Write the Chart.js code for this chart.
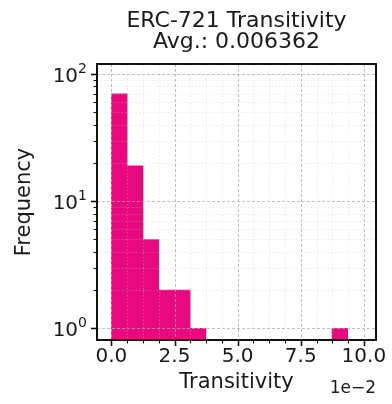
<!DOCTYPE html>
<html><head><meta charset="utf-8">
<script src="https://cdn.jsdelivr.net/npm/chart.js@4/dist/chart.umd.min.js"></script>
<style>html,body{margin:0;padding:0;background:#fff}#wrap{width:392px;height:404px}</style>
</head><body><div id="wrap"><canvas id="c" width="392" height="404"></canvas></div>
<script>
const titleLines = ['ERC-721 Transitivity', 'Avg.: 0.006362'];
const xLabel = 'Transitivity';
const yLabel = 'Frequency';
const offsetText = '1e\u22122';
const binCenters = [0.00312, 0.00936, 0.01560, 0.02184, 0.02808, 0.03432, 0.04056, 0.04680, 0.05304, 0.05928, 0.06552, 0.07176, 0.07800, 0.08424, 0.09048];
const counts = [70, 19, 5, 2, 2, 1, 0, 0, 0, 0, 0, 0, 0, 0, 1];
const xMajorTicks = [0, 0.025, 0.05, 0.075, 0.1];
const xTickLabels = ['0.0', '2.5', '5.0', '7.5', '10.0'];
const xMinorTicks = [0.00625, 0.0125, 0.01875, 0.03125, 0.0375, 0.04375, 0.05625, 0.0625, 0.06875, 0.08125, 0.0875, 0.09375];
const yMajorTicks = [1, 10, 100];
const yTickBase = '10';
const yTickExponents = ['0', '1', '2'];
const yMinorTicks = [2, 3, 4, 5, 6, 7, 8, 9, 20, 30, 40, 50, 60, 70, 80, 90];

const FONT = "'DejaVu Sans', sans-serif";
const TXT = '#1a1a1a';

const framePlugin = {
  id: 'frame',
  afterDatasetsDraw(chart) {
    const {ctx, chartArea: a, scales: {x, y}} = chart;
    ctx.save();
    ctx.beginPath(); ctx.rect(a.left, a.top, a.right - a.left, a.bottom - a.top); ctx.clip();
    const seg = (x1, y1, x2, y2, color, dash, w) => {
      ctx.beginPath(); ctx.setLineDash(dash); ctx.strokeStyle = color; ctx.lineWidth = w;
      ctx.moveTo(x1, y1); ctx.lineTo(x2, y2); ctx.stroke();
    };
    const minorC = 'rgba(200,200,200,0.45)', majorC = 'rgba(170,170,170,0.75)';
    xMinorTicks.forEach(v => { const p = Math.round(x.getPixelForValue(v)) + 0.5; seg(p, a.top, p, a.bottom, minorC, [1.5, 2], 0.8); });
    yMinorTicks.forEach(v => { const p = Math.round(y.getPixelForValue(v)) + 0.5; seg(a.left, p, a.right, p, minorC, [1.5, 2], 0.8); });
    xMajorTicks.forEach(v => { const p = Math.round(x.getPixelForValue(v)) + 0.5; seg(p, a.top, p, a.bottom, majorC, [3, 2], 1); });
    yMajorTicks.forEach(v => { const p = Math.round(y.getPixelForValue(v)) + 0.5; seg(a.left, p, a.right, p, majorC, [3, 2], 1); });
    ctx.restore();
    ctx.save();
    const tk = (x1, y1, x2, y2, w) => { ctx.beginPath(); ctx.strokeStyle = '#111'; ctx.lineWidth = w; ctx.moveTo(x1, y1); ctx.lineTo(x2, y2); ctx.stroke(); };
    xMajorTicks.forEach(v => { const p = Math.round(x.getPixelForValue(v)) + 0.5; tk(p, a.bottom, p, a.bottom + 6, 1.6); });
    xMinorTicks.forEach(v => { const p = Math.round(x.getPixelForValue(v)) + 0.5; tk(p, a.bottom, p, a.bottom + 3.5, 1.1); });
    yMajorTicks.forEach(v => { const p = Math.round(y.getPixelForValue(v)) + 0.5; tk(a.left, p, a.left - 6, p, 1.6); });
    yMinorTicks.forEach(v => { const p = Math.round(y.getPixelForValue(v)) + 0.5; tk(a.left, p, a.left - 3.5, p, 1.1); });
    ctx.lineWidth = 2; ctx.strokeStyle = '#111';
    ctx.strokeRect(a.left, a.top, a.right - a.left, a.bottom - a.top);
    // y tick labels: 10 with superscript exponent
    ctx.fillStyle = TXT; ctx.textBaseline = 'alphabetic';
    yMajorTicks.forEach((v, i) => {
      const p = y.getPixelForValue(v);
      const right = a.left - 10;
      ctx.font = '14px ' + FONT;
      const ew = ctx.measureText(yTickExponents[i]).width;
      ctx.textAlign = 'right';
      ctx.fillText(yTickExponents[i], right, p - 1);
      ctx.font = '20px ' + FONT;
      ctx.fillText(yTickBase, right - ew, p + 7.5);
    });
    ctx.font = '17px ' + FONT; ctx.textAlign = 'right'; ctx.textBaseline = 'top';
    ctx.fillText(offsetText, a.right, 380);
    ctx.restore();
  }
};

new Chart(document.getElementById('c'), {
  type: 'bar',
  data: {
    datasets: [{
      data: binCenters.map((v, i) => ({x: v, y: counts[i] > 0 ? counts[i] : null})),
      backgroundColor: '#e8087f',
      borderWidth: 0,
      barPercentage: 1,
      categoryPercentage: 1
    }]
  },
  options: {
    responsive: false,
    animation: false,
    devicePixelRatio: 1,
    layout: {padding: {left: 0, right: 16, top: 0, bottom: 0}},
    plugins: {
      legend: {display: false},
      tooltip: {enabled: false},
      title: {
        display: true, text: titleLines, color: TXT, fullSize: false,
        font: {family: FONT, size: 22, weight: 'normal', lineHeight: 0.932},
        padding: {top: 11.25, bottom: 11.75}
      }
    },
    scales: {
      x: {
        type: 'linear', min: -0.0057, max: 0.1048, offset: false,
        afterBuildTicks: s => { s.ticks = xMajorTicks.map(v => ({value: v})); },
        afterFit: s => { s.height = 64; },
        ticks: {
          autoSkip: false, maxRotation: 0, color: TXT, padding: 5,
          font: {family: FONT, size: 20},
          callback: (v, i) => xTickLabels[i]
        },
        grid: {display: false, drawTicks: false},
        border: {display: false},
        title: {display: true, text: xLabel, color: TXT, font: {family: FONT, size: 21}, padding: {top: 0, bottom: 9}}
      },
      y: {
        type: 'logarithmic', min: 0.81, max: 120,
        afterBuildTicks: s => { s.ticks = yMajorTicks.map(v => ({value: v})); },
        afterFit: s => { s.width = 97; },
        ticks: {
          autoSkip: false, color: TXT, padding: 10,
          font: {family: FONT, size: 20},
          callback: () => ''
        },
        grid: {display: false, drawTicks: false},
        border: {display: false},
        title: {display: true, text: yLabel, color: TXT, font: {family: FONT, size: 21}, padding: {top: 12, bottom: 0}}
      }
    }
  },
  plugins: [framePlugin]
});
</script>
</body></html>
